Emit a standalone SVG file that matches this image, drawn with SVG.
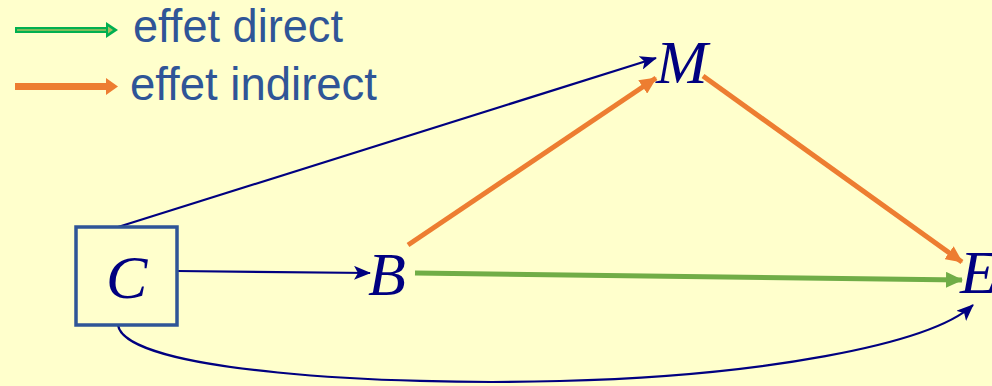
<svg xmlns="http://www.w3.org/2000/svg" width="992" height="386" viewBox="0 0 992 386">
<defs>
<style>
.legend{font-family:"Liberation Sans","Noto Sans",sans-serif;font-size:46px;fill:#2F5597}
.var{font-family:"Liberation Serif","DejaVu Serif",serif;font-style:italic;font-size:62px;fill:#000080}
.navy{stroke:#000080;stroke-width:2.2;fill:none}
.orange{stroke:#ED7D31;stroke-width:5;fill:none}
.green{stroke:#70AD47;stroke-width:5;fill:none}
</style>
<marker id="aN" markerUnits="userSpaceOnUse" markerWidth="18" markerHeight="14" refX="16" refY="7" orient="auto"><path d="M0,0 L17,7 L0,14 L4,7 Z" fill="#000080"/></marker>
<marker id="aO" markerUnits="userSpaceOnUse" markerWidth="18" markerHeight="16" refX="16" refY="8" orient="auto"><path d="M0,0 L17,8 L0,16 Z" fill="#ED7D31"/></marker>
<marker id="aG" markerUnits="userSpaceOnUse" markerWidth="18" markerHeight="16" refX="16" refY="8" orient="auto"><path d="M0,0 L17,8 L0,16 Z" fill="#70AD47"/></marker>
</defs>
<rect width="992" height="386" fill="#FFFFCC"/>
<g id="legend">
<line x1="15" y1="30" x2="108" y2="30" stroke="#00B050" stroke-width="6"/>
<line x1="17" y1="30" x2="108" y2="30" stroke="#A8C060" stroke-width="1.5"/>
<path d="M106,22 L118,30 L106,38 Z" fill="#00B050"/>
<path d="M108,26.5 L113,30 L108,33.5 Z" fill="#A8C060"/>
<line x1="15" y1="86.5" x2="108" y2="86.5" stroke="#ED7D31" stroke-width="7"/>
<path d="M106,78 L118,86.5 L106,95 Z" fill="#ED7D31"/>
<text class="legend" x="133" y="42" textLength="210" lengthAdjust="spacingAndGlyphs">effet direct</text>
<text class="legend" x="130" y="100" textLength="247" lengthAdjust="spacingAndGlyphs">effet indirect</text>
</g>
<g id="connectors">
<line class="navy" x1="118" y1="227" x2="656" y2="58" marker-end="url(#aN)"/>
<line class="navy" x1="177" y1="271" x2="370" y2="273" marker-end="url(#aN)"/>
<path class="navy" d="M118,325 C125,372 390,386 560,381 C760,376 930,345 973,305" marker-end="url(#aN)"/>
<line class="orange" x1="408" y1="245" x2="656" y2="78" marker-end="url(#aO)"/>
<line class="orange" x1="703" y1="76" x2="962" y2="262" marker-end="url(#aO)"/>
<line class="green" x1="415" y1="273" x2="962" y2="280" marker-end="url(#aG)"/>
</g>
<g id="node-C">
<rect x="76" y="227" width="101" height="98" fill="none" stroke="#2F5597" stroke-width="3.5"/>
<text class="var" x="106" y="298">C</text>
</g>
<g id="node-B"><text class="var" x="368" y="295">B</text></g>
<g id="node-M"><text class="var" x="656" y="83">M</text></g>
<g id="node-E"><text class="var" x="960" y="293">E</text></g>
</svg>
